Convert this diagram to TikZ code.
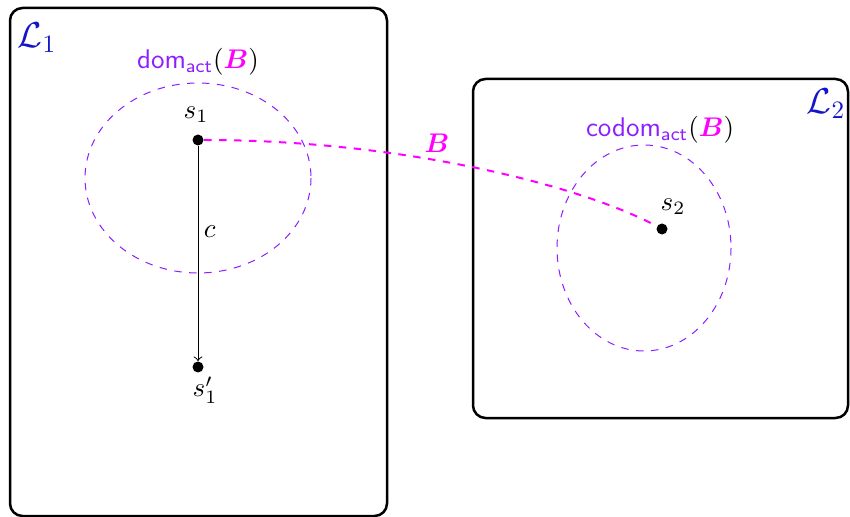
\documentclass[tikz,border=0pt]{standalone}
\usepackage{amsmath}
\usepackage{amssymb}
\definecolor{vio}{RGB}{140,30,255}
\definecolor{mag}{RGB}{255,0,255}
\definecolor{lblue}{RGB}{20,20,200}
\tikzset{
  regionbox/.style={draw=black, line width=1pt, rounded corners=5pt},
  domell/.style={draw=vio, dashed, line width=0.4pt},
  dotnode/.style={circle, fill=black, inner sep=0pt, minimum size=4.4pt},
  bcurve/.style={draw=mag, dashed, line width=0.8pt},
  lbl/.style={inner sep=1pt, scale=1.08},
}
\begin{document}
\begin{tikzpicture}[x=0.4pt,y=-0.4pt]
\useasboundingbox (0,0) rectangle (850,517);
% boxes
\draw[regionbox] (10,8) rectangle (387,516);
\draw[regionbox] (473,79) rectangle (848,418);
\node[inner sep=1pt, text=lblue, font=\Large] (L1) at (37,38) {$\mathcal{L}_1$};
\node[inner sep=1pt, text=lblue, font=\Large] (L2) at (826,104) {$\mathcal{L}_2$};
% ellipses
\draw[domell] (198,178) ellipse [x radius=113, y radius=95];
\draw[domell] (644,248) ellipse [x radius=87, y radius=103];
\node[lbl] (domlbl) at (198,62) {\textcolor{vio}{$\mathsf{dom}_{\mathsf{act}}$}$($\textcolor{mag}{$\boldsymbol{B}$}$)$};
\node[lbl] (codomlbl) at (660,130) {\textcolor{vio}{$\mathsf{codom}_{\mathsf{act}}$}$($\textcolor{mag}{$\boldsymbol{B}$}$)$};
% states
\node[dotnode] (s1) at (198,140) {};
\node[dotnode] (s1p) at (198,367) {};
\node[dotnode] (s2) at (662,229) {};
\node[lbl] (s1lbl) at (196,115) {$s_1$};
\node[lbl] (s1plbl) at (205,390) {$s_1'$};
\node[lbl] (s2lbl) at (673,207) {$s_2$};
% transition
\draw[->, line width=0.4pt] (s1) -- node[pos=0.4, right, inner sep=2pt, scale=1.08] (clbl) {$c$} (s1p);
% bridge
\draw[bcurve] (s1) .. controls (400,140) and (580,185) .. (s2);
\node[lbl, text=mag] (Blbl) at (437,143) {$\boldsymbol{B}$};
\end{tikzpicture}
\end{document}
